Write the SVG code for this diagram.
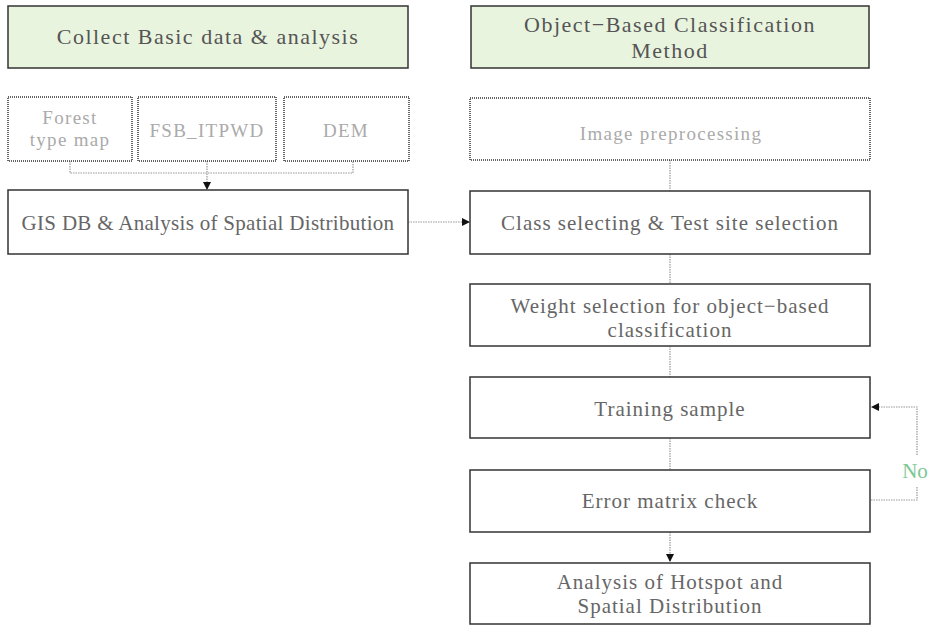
<svg xmlns="http://www.w3.org/2000/svg" width="930" height="626" viewBox="0 0 930 626">
<defs>
<style>
.hdr{fill:#e9f4df;stroke:#333;stroke-width:1.5}
.box{fill:#fff;stroke:#333;stroke-width:1.5}
.sbox{fill:#fff;stroke:#333;stroke-width:1.5;stroke-dasharray:1 1}
.t{font-family:"Liberation Serif",serif;font-size:21px;letter-spacing:1px;fill:#666;text-anchor:middle}
.th{font-family:"Liberation Serif",serif;font-size:22px;letter-spacing:1.5px;fill:#555;text-anchor:middle}
.ts{font-family:"Liberation Serif",serif;font-size:19px;letter-spacing:1.3px;fill:#aaa;text-anchor:middle}
.c{fill:none;stroke:#999;stroke-width:1.2;stroke-dasharray:1.5 1}
.no{font-family:"Liberation Serif",serif;font-size:21px;fill:#7cc893;text-anchor:middle}
</style>
<marker id="ah" markerWidth="8" markerHeight="8" refX="7" refY="4" orient="auto" markerUnits="userSpaceOnUse">
<path d="M0,0 L8,4 L0,8 z" fill="#111"/>
</marker>
</defs>
<rect width="930" height="626" fill="#fff"/>
<g id="connectors">
<path class="c" d="M70,161 V173 H353 V161"/>
<path class="c" d="M207,161 V189" marker-end="url(#ah)"/>
<path class="c" d="M408,222 H469" marker-end="url(#ah)"/>
<path class="c" d="M670,160 V191"/>
<path class="c" d="M670,254 V284"/>
<path class="c" d="M670,346 V377"/>
<path class="c" d="M670,438 V470"/>
<path class="c" d="M670,532 V561" marker-end="url(#ah)"/>
<path class="c" d="M871,500 H917 V486"/>
<path class="c" d="M917,455 V407 H872" marker-end="url(#ah)"/>
<text class="no" x="915" y="478">No</text>
</g>
<g id="hdr-left"><rect class="hdr" x="8" y="6" width="400" height="62"/><text class="th" x="208" y="44">Collect Basic data &amp; analysis</text></g>
<g id="hdr-right"><rect class="hdr" x="471" y="6" width="398" height="62"/><text class="th" x="670" y="32">Object−Based Classification</text><text class="th" x="670" y="58">Method</text></g>
<g id="forest"><rect class="sbox" x="8" y="97" width="124" height="64"/><text class="ts" x="70" y="124">Forest</text><text class="ts" x="70" y="146">type map</text></g>
<g id="fsb"><rect class="sbox" x="138" y="97" width="138" height="64"/><text class="ts" x="207" y="137">FSB_ITPWD</text></g>
<g id="dem"><rect class="sbox" x="284" y="97" width="125" height="64"/><text class="ts" x="346" y="137">DEM</text></g>
<g id="gis"><rect class="box" x="8" y="190" width="400" height="64"/><text class="t" x="208" y="230" style="letter-spacing:0.3px">GIS DB &amp; Analysis of Spatial Distribution</text></g>
<g id="prep"><rect class="sbox" x="470" y="98" width="400" height="62"/><text class="ts" x="671" y="140">Image preprocessing</text></g>
<g id="class"><rect class="box" x="470" y="191" width="400" height="63"/><text class="t" x="670" y="230">Class selecting &amp; Test site selection</text></g>
<g id="weight"><rect class="box" x="470" y="284" width="400" height="62"/><text class="t" x="670" y="313">Weight selection for object−based</text><text class="t" x="670" y="337">classification</text></g>
<g id="training"><rect class="box" x="470" y="377" width="400" height="61"/><text class="t" x="670" y="416">Training sample</text></g>
<g id="error"><rect class="box" x="470" y="470" width="400" height="62"/><text class="t" x="670" y="508">Error matrix check</text></g>
<g id="hotspot"><rect class="box" x="470" y="563" width="400" height="61"/><text class="t" x="670" y="589">Analysis of Hotspot and</text><text class="t" x="670" y="613">Spatial Distribution</text></g>
</svg>
